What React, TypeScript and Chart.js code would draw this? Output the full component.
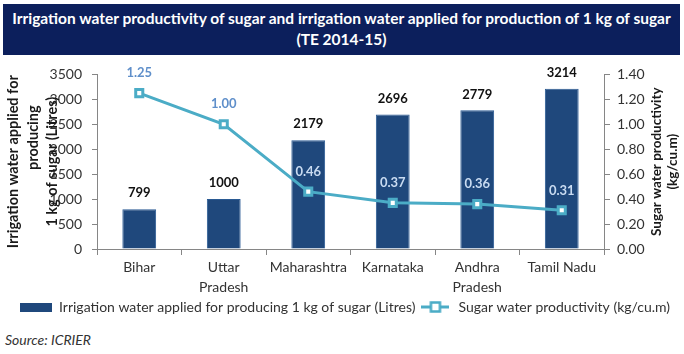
import React, { useEffect, useRef } from "react";
import { Chart, registerables } from "chart.js";

Chart.register(...registerables);

const categories: (string | string[])[] = [
  "Bihar",
  ["Uttar", "Pradesh"],
  "Maharashtra",
  "Karnataka",
  ["Andhra", "Pradesh"],
  "Tamil Nadu",
];
const waterApplied = [799, 1000, 2179, 2696, 2779, 3214];
const productivity = [1.25, 1.0, 0.46, 0.37, 0.36, 0.31];
const leftTicks = [0, 500, 1000, 1500, 2000, 2500, 3000, 3500];
const rightTicks = [0, 0.2, 0.4, 0.6, 0.8, 1.0, 1.2, 1.4];

const barLabel = "Irrigation water applied for producing 1 kg of sugar (Litres)";
const lineLabel = "Sugar water productivity (kg/cu.m)";
const titleLines = [
  "Irrigation water productivity of sugar and irrigation water applied for production of 1 kg of sugar",
  "(TE 2014-15)",
];
const leftTitle = ["Irrigation water applied for", "producing", "1 kg of sugar (Litres)"];
const rightTitle = ["Sugar water productivity", "(kg/cu.m)"];

const BAR = "#1f487c";
const LINE = "#4bacc6";
const FONT = "Lato, 'Open Sans', sans-serif";

export default function App() {
  const ref = useRef<HTMLCanvasElement | null>(null);

  useEffect(() => {
    document.body.style.margin = "0";
    const canvas = ref.current;
    if (!canvas) return;

    const barSw = document.createElement("canvas");
    barSw.width = 32;
    barSw.height = 9;
    const bctx = barSw.getContext("2d")!;
    bctx.fillStyle = BAR;
    bctx.fillRect(0, 0, 32, 9);

    const lineSw = document.createElement("canvas");
    lineSw.width = 28;
    lineSw.height = 12;
    const lctx = lineSw.getContext("2d")!;
    lctx.strokeStyle = LINE;
    lctx.lineWidth = 3;
    lctx.beginPath();
    lctx.moveTo(0, 6);
    lctx.lineTo(28, 6);
    lctx.stroke();
    lctx.fillStyle = "#fff";
    lctx.fillRect(9.5, 1.5, 9, 9);
    lctx.lineWidth = 2.5;
    lctx.strokeRect(9.5, 1.5, 9, 9);

    const labelsPlugin = {
      id: "labelsPlugin",
      afterDraw(chart: any) {
        const ctx = chart.ctx;
        const area = chart.chartArea;
        ctx.save();
        const bm = chart.getDatasetMeta(0);
        ctx.font = `bold 13px ${FONT}`;
        ctx.fillStyle = "#111";
        ctx.textAlign = "center";
        ctx.textBaseline = "middle";
        bm.data.forEach((el: any, i: number) => {
          ctx.fillText(String(waterApplied[i]), el.x, el.y - 16);
        });
        const lm = chart.getDatasetMeta(1);
        lm.data.forEach((el: any, i: number) => {
          ctx.fillStyle = i < 2 ? "#5f8fca" : "#c9dbf1";
          ctx.fillText(productivity[i].toFixed(2), el.x, el.y - 20);
        });
        const cy = (area.top + area.bottom) / 2;
        ctx.fillStyle = "#1a1a1a";
        ctx.font = `bold 14.5px ${FONT}`;
        const lx = [13, 33, 52];
        const ly = [0, -24, 0];
        leftTitle.forEach((t, i) => {
          ctx.save();
          ctx.translate(lx[i], cy + ly[i]);
          ctx.rotate(-Math.PI / 2);
          ctx.fillText(t, 0, 0);
          ctx.restore();
        });
        ctx.font = `bold 13.5px ${FONT}`;
        const rx = [657, 673];
        rightTitle.forEach((t, i) => {
          ctx.save();
          ctx.translate(rx[i], cy);
          ctx.rotate(-Math.PI / 2);
          ctx.fillText(t, 0, 0);
          ctx.restore();
        });
        ctx.restore();
      },
    };

    const chart = new Chart(canvas, {
      type: "bar",
      data: {
        labels: categories,
        datasets: [
          {
            type: "bar",
            label: barLabel,
            data: waterApplied,
            backgroundColor: BAR,
            borderColor: "#2a5a93",
            borderWidth: 1,
            categoryPercentage: 0.8,
            barPercentage: 0.5,
            yAxisID: "y",
            order: 1,
          },
          {
            type: "line",
            label: lineLabel,
            data: productivity,
            borderColor: LINE,
            borderWidth: 3,
            pointStyle: "rect",
            pointRadius: 5,
            pointBorderWidth: 3,
            pointBackgroundColor: "#fff",
            pointBorderColor: LINE,
            yAxisID: "y1",
            order: 0,
          } as any,
        ],
      },
      options: {
        animation: false,
        responsive: false,
        maintainAspectRatio: false,
        layout: { padding: { top: 16, bottom: 2, left: 6, right: 0 } },
        plugins: {
          tooltip: { enabled: false },
          title: { display: false },
          legend: {
            position: "bottom",
            labels: {
              usePointStyle: true,
              pointStyleWidth: 32,
              padding: 4,
              color: "#333",
              font: { family: FONT, size: 14 },
              generateLabels: () => [
                { text: barLabel, pointStyle: barSw as any, fillStyle: BAR, strokeStyle: BAR, lineWidth: 0, datasetIndex: 0, fontColor: "#333" },
                { text: lineLabel, pointStyle: lineSw as any, fillStyle: LINE, strokeStyle: LINE, lineWidth: 0, datasetIndex: 1, fontColor: "#333" },
              ] as any,
            },
          },
        },
        scales: {
          x: {
            offset: true,
            grid: { offset: true, drawOnChartArea: false, drawTicks: true, tickLength: 6, color: "#868686" },
            border: { display: true, color: "#868686" },
            ticks: { color: "#333", padding: 2, font: { family: FONT, size: 14, lineHeight: 1.45 }, maxRotation: 0, autoSkip: false },
            afterFit: (s: any) => { s.height = 47; },
          },
          y: {
            position: "left",
            min: 0,
            max: 3500,
            afterBuildTicks: (s: any) => { s.ticks = leftTicks.map((v) => ({ value: v })); },
            grid: { drawOnChartArea: false, drawTicks: true, tickLength: 5, color: "#868686" },
            border: { display: true, color: "#868686" },
            ticks: { color: "#333", padding: 10, font: { family: FONT, size: 14 }, callback: (v: any) => String(v) },
            afterFit: (s: any) => { s.width = 91; },
          },
          y1: {
            position: "right",
            min: 0,
            max: 1.4,
            afterBuildTicks: (s: any) => { s.ticks = rightTicks.map((v) => ({ value: v })); },
            grid: { drawOnChartArea: false, drawTicks: true, tickLength: 6, color: "#868686" },
            border: { display: true, color: "#868686" },
            ticks: { color: "#333", padding: 7, font: { family: FONT, size: 14 }, callback: (v: any) => Number(v).toFixed(2) },
            afterFit: (s: any) => { s.width = 80; },
          },
        },
      },
      plugins: [labelsPlugin],
    });
    return () => chart.destroy();
  }, []);

  return (
    <div style={{ position: "relative", width: 684, height: 354, background: "#fff", overflow: "hidden" }}>
      <div
        style={{
          position: "absolute",
          left: 3,
          top: 4,
          width: 677,
          height: 51,
          background: "#0c1f5c",
          color: "#fff",
          fontFamily: FONT,
          fontWeight: "bold",
          fontSize: 15.5,
          lineHeight: "21px",
          textAlign: "center",
          paddingTop: 4,
          boxSizing: "border-box",
          whiteSpace: "nowrap",
        }}
      >
        {titleLines.map((t, i) => (
          <div key={i}>{t}</div>
        ))}
      </div>
      <canvas ref={ref} width={684} height={270} style={{ position: "absolute", left: 0, top: 56 }} />
      <div
        style={{
          position: "absolute",
          left: 5,
          top: 331,
          fontFamily: FONT,
          fontStyle: "italic",
          fontSize: 14,
          color: "#333",
        }}
      >
        Source: ICRIER
      </div>
    </div>
  );
}
